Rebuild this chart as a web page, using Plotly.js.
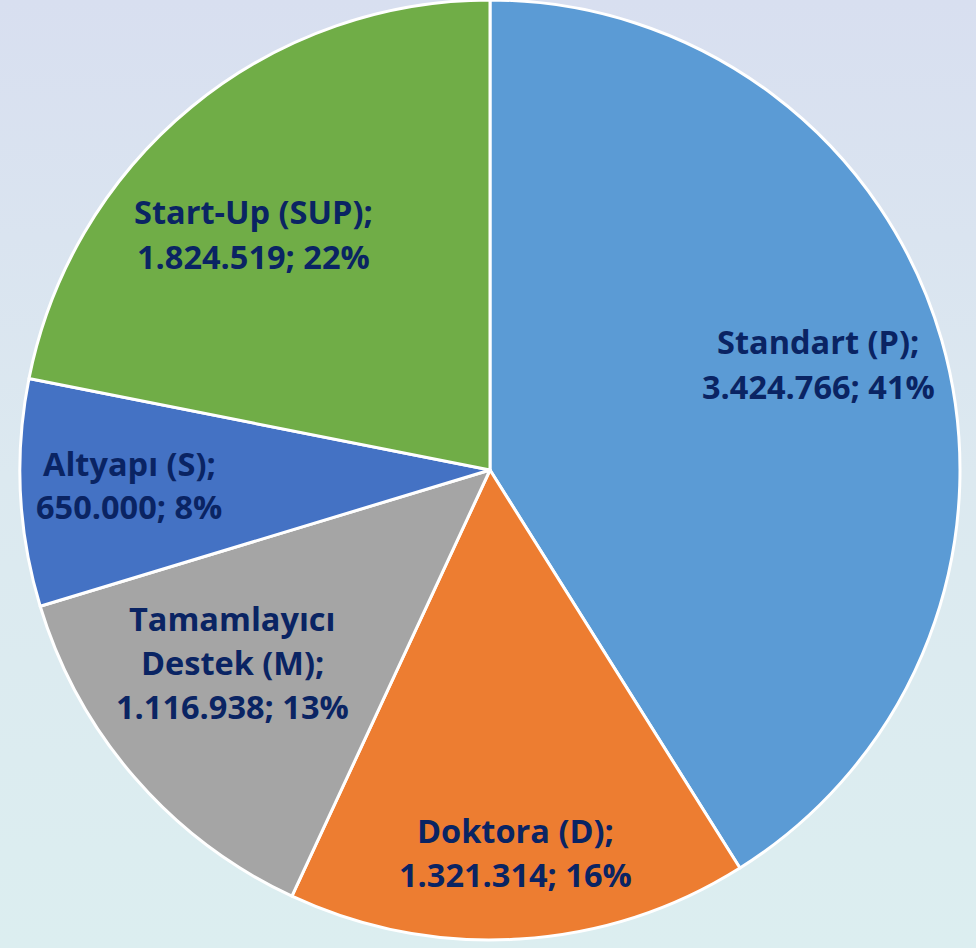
<!DOCTYPE html>
<html>
<head>
<meta charset="utf-8">
<script src="https://cdn.plot.ly/plotly-3.0.1.min.js"></script>
<style>
  html, body { margin:0; padding:0; }
  body { width:976px; height:948px; background: linear-gradient(to bottom, #D8DFF0 0%, #DCE9F0 50%, #DCEEF0 100%); overflow:hidden; }
  #chart { width:976px; height:948px; }
</style>
</head>
<body>
<div id="chart"></div>
<script>
// Data
const categories = ["Standart (P)", "Doktora (D)", "Tamamlayıcı Destek (M)", "Altyapı (S)", "Start-Up (SUP)"];
const values = [3424766, 1321314, 1116938, 650000, 1824519];
const colors = ["#5B9BD5", "#ED7D31", "#A5A5A5", "#4472C4", "#70AD47"];

const W = 976, H = 948;
const total = values.reduce((a, b) => a + b, 0);
function fmt(n) { return String(n).replace(/\B(?=(\d{3})+(?!\d))/g, "."); }

// Label anchor positions (pixels): first line centre for each category, line spacing
const labelPos = [
  {x: 818, y: 342},
  {x: 515, y: 830},
  {x: 232, y: 618},
  {x: 129, y: 463},
  {x: 253, y: 212}
];
const lineGap = 44;

const annotations = [];
categories.forEach((c, i) => {
  const pct = Math.round(values[i] / total * 100);
  let nameLines = [c + ";"];
  if (c.indexOf("Tamamlayıcı") === 0) {
    const parts = c.split(" ");
    nameLines = [parts[0], parts.slice(1).join(" ") + ";"];
  }
  const lines = nameLines.concat([fmt(values[i]) + "; " + pct + "%"]);
  lines.forEach((t, k) => {
    annotations.push({
      text: t,
      x: labelPos[i].x / W,
      y: 1 - (labelPos[i].y + k * lineGap) / H,
      xref: "paper", yref: "paper",
      xanchor: "center", yanchor: "middle",
      showarrow: false,
      font: {family: "Open Sans, Noto Sans, sans-serif", size: 32.5, color: "#0A2463", weight: 700}
    });
  });
});

const trace = {
  type: "pie",
  labels: categories,
  values: values,
  sort: false,
  direction: "clockwise",
  rotation: 0,
  textinfo: "none",
  hoverinfo: "none",
  marker: {colors: colors, line: {color: "#FFFFFF", width: 3}},
  domain: {x: [20 / W, 960 / W], y: [1 - 940 / H, 1]},
  showlegend: false
};

const layout = {
  width: W, height: H,
  margin: {l: 0, r: 0, t: 0, b: 0},
  paper_bgcolor: "rgba(0,0,0,0)",
  plot_bgcolor: "rgba(0,0,0,0)",
  showlegend: false,
  annotations: annotations
};

Plotly.newPlot("chart", [trace], layout, {displayModeBar: false, staticPlot: true});
</script>
</body>
</html>
